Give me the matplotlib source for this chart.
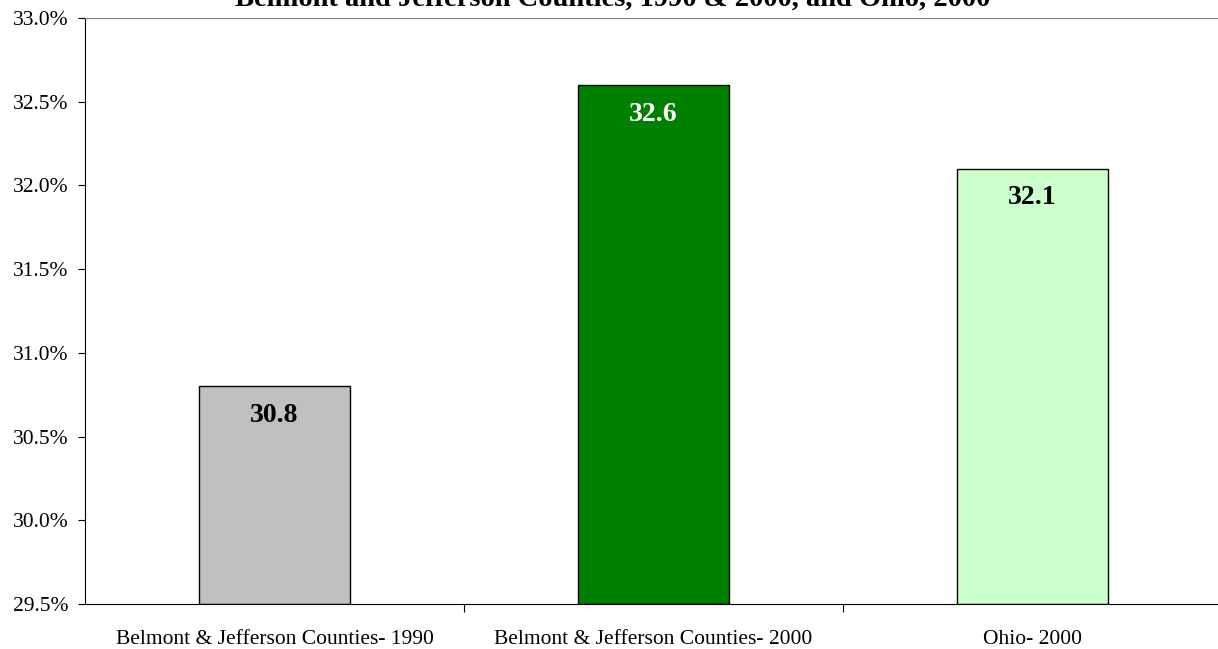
import matplotlib.pyplot as plt
from matplotlib.ticker import FuncFormatter

categories = ["Belmont & Jefferson Counties- 1990",
              "Belmont & Jefferson Counties- 2000",
              "Ohio- 2000"]
values = [30.8, 32.6, 32.1]
colors = ["#C0C0C0", "#008000", "#CCFFCC"]
label_colors = ["black", "white", "black"]

plt.rcParams['font.family'] = ['Liberation Serif', 'DejaVu Serif']

fig = plt.figure(figsize=(12.18, 6.49), dpi=100)
# axes extends slightly past the right edge like the original
ax = fig.add_axes([85 / 1218, 45 / 649, 1137 / 1218, 586 / 649])

x = range(len(categories))
ax.bar(x, [v - 29.5 for v in values], bottom=29.5, width=0.4,
       color=colors, edgecolor="black", linewidth=1)

for i, v in enumerate(values):
    ax.annotate(f"{v:.1f}", (i, v), xytext=(0, -21), textcoords="offset points",
                ha="center", va="center", fontsize=20, fontweight="bold",
                color=label_colors[i])

ax.set_xlim(-0.5, 2.5)
ax.set_ylim(29.5, 33.0)
ax.set_yticks([29.5, 30.0, 30.5, 31.0, 31.5, 32.0, 32.5, 33.0])
ax.yaxis.set_major_formatter(FuncFormatter(lambda v, p: f"{v:.1f}%"))
ax.tick_params(axis="y", labelsize=15.5, length=5, direction="out", pad=7)

# category labels sit between boundary ticks
ax.set_xticks([0.5, 1.5])
ax.set_xticklabels([])
ax.set_xticks(list(x), minor=True)
ax.set_xticklabels(categories, minor=True, fontsize=15.5)
ax.tick_params(axis="x", which="minor", length=0, pad=19)
ax.tick_params(axis="x", which="major", length=6, direction="out")

ax.spines["top"].set_color("#808080")
ax.spines["right"].set_visible(False)
ax.spines["left"].set_color("black")
ax.spines["bottom"].set_color("black")

# title is clipped at the top edge, as in the source image
fig.text(613 / 1218, 1 - 6 / 649, "Belmont and Jefferson Counties, 1990 & 2000, and Ohio, 2000",
         ha="center", va="baseline", fontsize=20.5, fontweight="bold")

fig.savefig("out.png", dpi=100)
